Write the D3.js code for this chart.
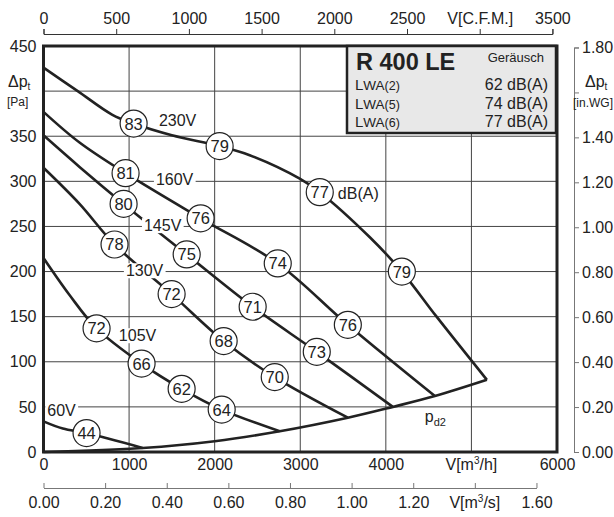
<!DOCTYPE html>
<html>
<head>
<meta charset="utf-8">
<script src="https://cdn.jsdelivr.net/npm/d3@7"></script>
<style>
  body { margin: 0; background: #fff; }
  text { font-family: "Liberation Sans", Arial, sans-serif; fill: #222; }
</style>
</head>
<body>
<script>
// fan curves, [m3/h, Pa]
var c230 = [[0,426],[400,400],[800,374],[1053,364],[1500,351],[2058,339],[2409,329],[2994,303],[3228,288],[3813,238],[4187,200],[4593,150],[5181,80]];
var c160 = [[0,377],[421,343],[959,309],[1836,259],[2737,209],[3556,141],[4573,62]];
var c145 = [[0,351],[421,316],[936,275],[1673,219],[2444,161],[3193,111],[4082,50]];
var c130 = [[0,315],[421,275],[830,230],[1497,175],[2105,123],[2702,83],[3556,38]];
var c105 = [[0,215],[304,174],[620,137],[1146,98],[1614,70],[2082,47],[2760,23]];
var c60  = [[0,34],[226,26],[503,21],[1158,4.5]];
var pd2  = [[0,0],[1158,4.5],[2000,12],[2760,23],[3556,38],[4082,50],[4573,62],[5181,80]];

// noise circles [m3/h, Pa, dB(A)]
var db230 = [[1053,364,83],[2058,339,79],[3228,288,77],[4187,200,79]];
var db160 = [[959,309,81],[1836,259,76],[2737,209,74],[3556,141,76]];
var db145 = [[936,275,80],[1673,219,75],[2444,161,71],[3193,111,73]];
var db130 = [[830,230,78],[1497,175,72],[2105,123,68],[2702,83,70]];
var db105 = [[620,137,72],[1146,98,66],[1614,70,62],[2082,47,64]];
var db60  = [[503,21,44]];

// voltage labels [m3/h, Pa, text]
var voltLabels = [[1567,367,"230V"],[1532,302,"160V"],[1392,251,"145V"],[1181,201,"130V"],[1099,129,"105V"],[211,46,"60V"]];

var m3hTicks = [0,1000,2000,3000,4000,5000,6000];
var paTicks = [0,50,100,150,200,250,300,350,400,450];
var cfmTicks = [0,500,1000,1500,2000,2500,3000,3500];
var m3sTicks = [0,0.2,0.4,0.6,0.8,1.0,1.2,1.4,1.6];
var inwgTicks = [0,0.2,0.4,0.6,0.8,1.0,1.2,1.4,1.6,1.8];

var legendIdx = ["2","5","6"];
var legendDb = [62,74,77];

var svgWidth = 614, svgHeight = 517;

var svg = d3.select("body").append("svg")
  .attr("width", svgWidth)
  .attr("height", svgHeight);

var x = d3.scaleLinear().domain([0,6000]).range([43.5,557]);
var y = d3.scaleLinear().domain([0,450]).range([452,46]);
var xCfm = d3.scaleLinear().domain([0,3500]).range([x(0), x(3500*1.699)]);
var xS = d3.scaleLinear().domain([0,1.6]).range([x(0), x(1.6*3600)]);
var yW = d3.scaleLinear().domain([0,1.8]).range([y(0), y(1.8*249.09)]);

// grid
svg.append("g").selectAll("line").data(m3hTicks.slice(1,-1)).enter().append("line")
  .attr("x1", d => x(d)).attr("x2", d => x(d))
  .attr("y1", y(0)).attr("y2", y(450))
  .attr("stroke", "#444").attr("stroke-width", 1);
svg.append("g").selectAll("line").data(paTicks.slice(1,-1)).enter().append("line")
  .attr("y1", d => y(d)).attr("y2", d => y(d))
  .attr("x1", x(0)).attr("x2", x(6000))
  .attr("stroke", "#444").attr("stroke-width", 1);

// curves
var line = d3.line().x(d => x(d[0])).y(d => y(d[1])).curve(d3.curveCatmullRom.alpha(0.5));
[c230, c160, c145, c130, c105, c60, pd2].forEach(function(c) {
  svg.append("path").attr("d", line(c))
    .attr("fill", "none").attr("stroke", "#222").attr("stroke-width", 2.6);
});

// voltage labels with white background
voltLabels.forEach(function(v) {
  var g = svg.append("g");
  var t = g.append("text")
    .attr("x", x(v[0])).attr("y", y(v[1]))
    .attr("dy", "0.35em").attr("text-anchor", "middle")
    .attr("font-size", 16).text(v[2]);
  var b = t.node().getBBox();
  g.insert("rect", "text")
    .attr("x", b.x - 2).attr("y", b.y + 1)
    .attr("width", b.width + 4).attr("height", b.height - 2)
    .attr("fill", "#fff");
});

svg.append("text").attr("x", x(3439)).attr("y", y(287))
  .attr("dy", "0.35em").attr("font-size", 16).text("dB(A)");

var pd = svg.append("text").attr("x", x(4456)).attr("y", y(33)).attr("font-size", 16);
pd.append("tspan").text("p");
pd.append("tspan").attr("font-size", 11).attr("dy", 4).text("d2");

// circles
[db230, db160, db145, db130, db105, db60].forEach(function(arr) {
  var g = svg.append("g").selectAll("g").data(arr).enter().append("g")
    .attr("transform", d => `translate(${x(d[0])},${y(d[1])})`);
  g.append("circle").attr("r", 13.5)
    .attr("fill", "#fff").attr("stroke", "#222").attr("stroke-width", 1.2);
  g.append("text").attr("text-anchor", "middle").attr("dy", "0.36em")
    .attr("font-size", 16.5).text(d => d[2]);
});

// frame
svg.append("rect")
  .attr("x", x(0)).attr("y", y(450))
  .attr("width", x(6000) - x(0)).attr("height", y(0) - y(450))
  .attr("fill", "none").attr("stroke", "#222").attr("stroke-width", 3);

// legend box
var lg = svg.append("g");
lg.append("rect").attr("x", 347).attr("y", 46).attr("width", 209).attr("height", 87)
  .attr("fill", "#e8e8e8").attr("stroke", "#222").attr("stroke-width", 2.5);
lg.append("text").attr("x", 356).attr("y", 70)
  .attr("font-size", 23.5).attr("font-weight", "bold").text("R 400 LE");
lg.append("text").attr("x", 544).attr("y", 62).attr("text-anchor", "end")
  .attr("font-size", 13).text("Geräusch");
legendIdx.forEach(function(n, i) {
  var ty = 90 + i * 18.5;
  var t = lg.append("text").attr("x", 355).attr("y", ty).attr("font-size", 15);
  t.append("tspan").text("L");
  t.append("tspan").attr("font-size", 13.5).text("WA");
  t.append("tspan").attr("font-size", 12.5).text("(" + n + ")");
  lg.append("text").attr("x", 548).attr("y", ty).attr("text-anchor", "end")
    .attr("font-size", 16).text(legendDb[i] + " dB(A)");
});

// axes
function styleAxis(g, col) {
  g.selectAll("text").attr("font-size", 16).attr("fill", "#222")
    .attr("font-family", "Liberation Sans, Arial, sans-serif");
  g.selectAll("line").attr("stroke", col);
  g.select(".domain").attr("stroke", col);
}

// top: C.F.M.
var topAxis = svg.append("g").attr("transform", "translate(0,34)")
  .call(d3.axisTop(xCfm).tickValues(cfmTicks).tickSize(5).tickPadding(5)
    .tickFormat(d => d === 3000 ? "V[C.F.M.]" : d));
styleAxis(topAxis, "#333");

// bottom: m3/h
var botAxis = svg.append("g").attr("transform", `translate(0,${y(0)})`)
  .call(d3.axisBottom(x).tickValues(m3hTicks).tickSize(0).tickPadding(7)
    .tickFormat(d => d === 5000 ? "" : d));
botAxis.select(".domain").remove();
styleAxis(botAxis, "#333");
var vh = botAxis.append("text").attr("x", x(5000)).attr("y", 7).attr("dy", "0.71em")
  .attr("text-anchor", "middle").attr("font-size", 16).attr("fill", "#222");
vh.append("tspan").text("V[m");
vh.append("tspan").attr("font-size", 10).attr("dy", -6).text("3");
vh.append("tspan").attr("dy", 6).text("/h]");

// bottom: m3/s
var sAxis = svg.append("g").attr("transform", "translate(0,488)")
  .call(d3.axisBottom(xS).tickValues(m3sTicks).tickSize(-5).tickSizeOuter(0).tickPadding(9)
    .tickFormat(d => d === 1.4 ? "" : d3.format(".2f")(d)));
styleAxis(sAxis, "#777");
var vs = sAxis.append("text").attr("x", xS(1.4)).attr("y", 9).attr("dy", "0.71em")
  .attr("text-anchor", "middle").attr("font-size", 16).attr("fill", "#222");
vs.append("tspan").text("V[m");
vs.append("tspan").attr("font-size", 10).attr("dy", -6).text("3");
vs.append("tspan").attr("dy", 6).text("/s]");

// left: Pa
var leftAxis = svg.append("g").attr("transform", `translate(${x(0)},0)`)
  .call(d3.axisLeft(y).tickValues(paTicks).tickSize(0).tickPadding(7)
    .tickFormat(d => d === 400 ? "" : d));
leftAxis.select(".domain").remove();
styleAxis(leftAxis, "#333");
var dl = svg.append("text").attr("x", 8).attr("y", 87).attr("font-size", 16);
dl.append("tspan").text("\u0394p");
dl.append("tspan").attr("font-size", 10).attr("dy", 3).text("t");
svg.append("text").attr("x", 7).attr("y", 106).attr("font-size", 12).text("[Pa]");

// right: in.WG
var rightAxis = svg.append("g").attr("transform", "translate(574,0)")
  .call(d3.axisRight(yW).tickValues(inwgTicks).tickSize(5).tickPadding(3)
    .tickFormat(d => Math.abs(d - 1.6) < 1e-9 ? "" : d3.format(".2f")(d)));
styleAxis(rightAxis, "#777");
var dr = svg.append("text").attr("x", 585).attr("y", 87).attr("font-size", 16);
dr.append("tspan").text("\u0394p");
dr.append("tspan").attr("font-size", 10).attr("dy", 3).text("t");
svg.append("text").attr("x", 573).attr("y", 107).attr("font-size", 12).text("[in.WG]");
</script>
</body>
</html>
